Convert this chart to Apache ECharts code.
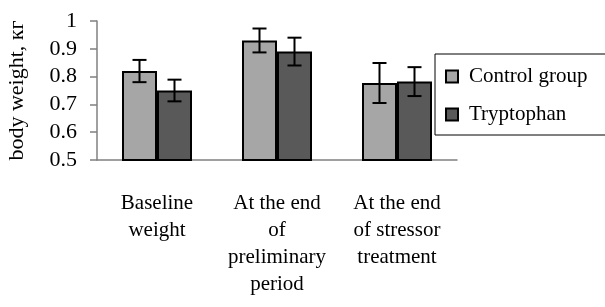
<!DOCTYPE html>
<html>
<head>
<meta charset="utf-8">
<script src="https://cdn.jsdelivr.net/npm/echarts@6/dist/echarts.min.js"></script>
<style>
  html, body { margin: 0; padding: 0; background: #fff; }
  #chart { width: 605px; height: 307px; }
</style>
</head>
<body>
<div id="chart"></div>
<script>
// data
var categories = ['Baseline\nweight', 'At the end\nof\npreliminary\nperiod', 'At the end\nof stressor\ntreatment'];
var seriesNames = ['Control group', 'Tryptophan'];
var controlMeans = [0.82, 0.93, 0.777];
var controlErr = [0.04, 0.043, 0.072];
var tryptophanMeans = [0.75, 0.89, 0.782];
var tryptophanErr = [0.039, 0.05, 0.052];
var yMin = 0.5, yMax = 1, yStep = 0.1;

var font = '"Liberation Serif", "Times New Roman", serif';
var barW = 35;

function errData(means, errs) {
    return means.map(function (m, i) { return [i, m - errs[i], m + errs[i]]; });
}

function errSeries(means, errs, shift) {
    return {
        type: 'custom',
        silent: true,
        z: 10,
        data: errData(means, errs),
        renderItem: function (params, api) {
            var lo = api.coord([api.value(0), api.value(1)]);
            var hi = api.coord([api.value(0), api.value(2)]);
            var x = lo[0] + shift;
            var cap = 7;
            var st = { stroke: '#000', lineWidth: 2 };
            return {
                type: 'group',
                children: [
                    { type: 'line', shape: { x1: x, y1: hi[1], x2: x, y2: lo[1] }, style: st },
                    { type: 'line', shape: { x1: x - cap, y1: hi[1], x2: x + cap, y2: hi[1] }, style: st },
                    { type: 'line', shape: { x1: x - cap, y1: lo[1], x2: x + cap, y2: lo[1] }, style: st }
                ]
            };
        }
    };
}

var chart = echarts.init(document.getElementById('chart'));

var option = {
    animation: false,
    grid: { left: 97, top: 21, width: 360, height: 139, containLabel: false, outerBoundsMode: 'none' },
    legend: {
        orient: 'vertical',
        left: 435,
        top: 54,
        padding: [12, 40, 10, 10],
        itemGap: 17,
        itemWidth: 12,
        itemHeight: 12,
        icon: 'rect',
        borderColor: '#000',
        borderWidth: 1,
        textStyle: { fontFamily: font, fontSize: 21, color: '#000', padding: [0, 0, 0, 6] },
        data: seriesNames
    },
    xAxis: {
        type: 'category',
        data: categories,
        axisLine: { lineStyle: { color: '#808080', width: 1.5 } },
        axisTick: { length: 7, lineStyle: { color: '#808080', width: 1.5 } },
        axisLabel: {
            interval: 0,
            margin: 30,
            fontFamily: font,
            fontSize: 21,
            lineHeight: 27,
            color: '#000'
        }
    },
    yAxis: {
        type: 'value',
        min: yMin,
        max: yMax,
        interval: yStep,
        name: 'body weight, кг',
        nameLocation: 'middle',
        nameGap: 69,
        nameTextStyle: { fontFamily: font, fontSize: 22, color: '#000' },
        axisLine: { show: true, lineStyle: { color: '#808080', width: 1.5 } },
        axisTick: { show: true, length: 7, lineStyle: { color: '#808080', width: 1.5 } },
        splitLine: { show: false },
        axisLabel: { margin: 20, fontFamily: font, fontSize: 22, color: '#000' }
    },
    series: [
        {
            name: seriesNames[0],
            type: 'bar',
            barWidth: barW,
            barGap: '0%',
            data: controlMeans,
            itemStyle: { color: '#a6a6a6', borderColor: '#000', borderWidth: 2 }
        },
        {
            name: seriesNames[1],
            type: 'bar',
            barWidth: barW,
            barGap: '0%',
            data: tryptophanMeans,
            itemStyle: { color: '#595959', borderColor: '#000', borderWidth: 2 }
        },
        errSeries(controlMeans, controlErr, -barW / 2),
        errSeries(tryptophanMeans, tryptophanErr, barW / 2)
    ]
};

chart.setOption(option);
</script>
</body>
</html>
